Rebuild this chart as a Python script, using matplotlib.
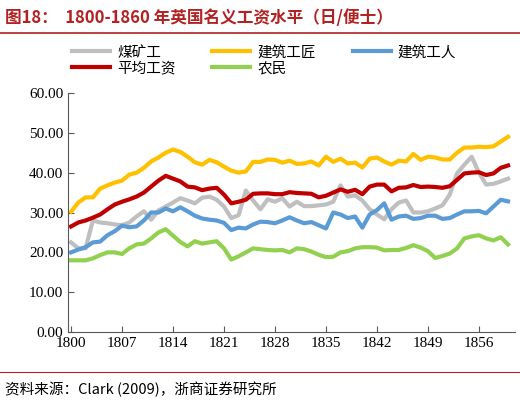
import matplotlib
matplotlib.use("Agg")
import matplotlib.pyplot as plt

plt.rcParams["font.family"] = ["Noto Sans CJK SC", "DejaVu Sans"]

years = list(range(1800, 1861))
tick_years = [1800, 1807, 1814, 1821, 1828, 1835, 1842, 1849, 1856]

coal = [22.5, 21, 21, 28, 27.5, 27.3, 27, 26.8, 27.5, 29,
        30.3, 28.2, 30.5, 31.5, 32.5, 33.6, 33, 32.3, 33.7, 34,
        33.2, 31.5, 28.6, 29.3, 35.5, 33, 30.8, 33.3, 32.7, 33.6,
        31.5, 32.7, 31.6, 31.6, 31.8, 32, 32.7, 36.8, 34, 34.3,
        33, 30.8, 29.5, 28.3, 30.8, 32.5, 33, 30, 30, 30.3,
        31, 31.8, 34.5, 39.8, 42, 44, 40, 37, 37.2, 37.8, 38.5]
craftsman = [30.2, 32.5, 33.8, 33.8, 36, 36.8, 37.5, 38, 39.5, 40,
             41.2, 42.8, 43.8, 45, 45.8, 45.2, 44, 42.6, 42, 43.2,
             42.6, 41.5, 40.5, 40, 40.3, 42.7, 42.7, 43.3, 43.2, 42.5,
             43, 42.2, 42.3, 42.8, 41.8, 44, 42.7, 43.5, 42.3, 42.5,
             41.3, 43.5, 43.8, 42.8, 42, 43, 42.8, 44.7, 43.2, 44,
             43.8, 43.3, 43.3, 45, 46.3, 46.3, 46.5, 46.4, 46.6, 47.8, 49]
builder = [20, 20.7, 21.3, 22.5, 22.7, 24.3, 25.3, 26.7, 26.3, 26.5,
           28, 30, 30, 31, 30.3, 31.3, 30.3, 29.2, 28.5, 28.2,
           28, 27.4, 25.6, 26.2, 26, 27, 27.7, 27.6, 27.3, 28,
           28.8, 28, 27.3, 27.6, 26.8, 26, 30, 29.5, 28.6, 29,
           26.2, 29.5, 30.6, 32.3, 28.2, 29, 29.2, 28.4, 28.6, 29.2,
           29.2, 28.4, 28.6, 29.5, 30.3, 30.3, 30.4, 29.8, 31.5, 33.2, 32.8]
average = [26.5, 27.5, 28, 28.7, 29.5, 30.8, 32, 32.7, 33.3, 34,
           35, 36.5, 38, 39.2, 38.5, 37.8, 36.5, 36.3, 35.6, 36,
           36.2, 34.5, 32.3, 32.7, 33.2, 34.7, 34.8, 34.8, 34.6, 34.6,
           35.1, 34.9, 34.8, 34.7, 33.8, 34.2, 35, 35.8, 35.2, 35.7,
           34.6, 36.5, 37, 37, 35.3, 36.2, 36.3, 36.9, 36.4, 36.5,
           36.4, 36.2, 36.6, 38.2, 39.8, 40, 40.1, 39.4, 39.8, 41.2, 41.8]
farmer = [18, 18, 18, 18.5, 19.3, 20, 20, 19.6, 21, 22,
          22.2, 23.5, 25, 25.8, 24.2, 22.6, 21.5, 22.8, 22.2, 22.5,
          22.8, 21, 18.2, 19, 20, 21, 20.8, 20.6, 20.5, 20.6,
          20, 21, 20.8, 20.2, 19.4, 18.8, 18.9, 20, 20.3, 21,
          21.3, 21.3, 21.2, 20.5, 20.6, 20.6, 21.1, 21.8, 21.2, 20.3,
          18.6, 19.1, 19.7, 21, 23.5, 24, 24.3, 23.5, 23, 23.8, 22]

fig = plt.figure(figsize=(5.2, 4.04), dpi=100)
ax = fig.add_axes([0.131, 0.178, 0.86, 0.592])

lw = 3
h_coal, = ax.plot(years, coal, color="#BFBFBF", lw=lw, label="煤矿工")
h_craft, = ax.plot(years, craftsman, color="#FFC000", lw=lw, label="建筑工匠")
h_build, = ax.plot(years, builder, color="#5B9BD5", lw=lw, label="建筑工人")
h_avg, = ax.plot(years, average, color="#C00000", lw=lw, label="平均工资")
h_farm, = ax.plot(years, farmer, color="#92D050", lw=lw, label="农民")

ax.set_xlim(1799.6, 1861)
ax.set_ylim(0, 60)
ax.set_yticks(range(0, 61, 10))
ax.set_yticklabels([f"{v:.2f}" for v in range(0, 61, 10)], family="Liberation Serif", fontsize=11)
ax.set_xticks(tick_years)
ax.set_xticklabels([str(y) for y in tick_years], family="Liberation Serif", fontsize=11)
for s in ["top", "right"]:
    ax.spines[s].set_visible(False)
ax.spines["left"].set_color("#595959")
ax.spines["bottom"].set_color("#595959")
ax.tick_params(direction="in", length=4, color="#595959")

# 图例按行排列：第一行 煤矿工/建筑工匠/建筑工人，第二行 平均工资/农民
handles = [h_coal, h_avg, h_craft, h_farm, h_build]
ax.legend(handles=handles, labels=[h.get_label() for h in handles], ncol=3,
          loc="lower left", bbox_to_anchor=(-0.02, 1.02), frameon=False,
          fontsize=10.5, handlelength=2.6, columnspacing=2.5, handletextpad=0.5,
          labelspacing=0.1)

fig.text(0.01, 0.955, "图18：  1800-1860 年英国名义工资水平（日/便士）", color="#B22222",
         fontsize=12, fontweight="bold", va="center")
fig.add_artist(plt.Line2D([0.0, 1.0], [0.918, 0.918], color="#B22222", lw=1.2))
fig.add_artist(plt.Line2D([0.0, 1.0], [0.078, 0.078], color="#B22222", lw=0.8))
fig.text(0.01, 0.035, "资料来源：Clark (2009)，浙商证券研究所", fontsize=10.5, va="center")

fig.savefig("out.png", dpi=100)
